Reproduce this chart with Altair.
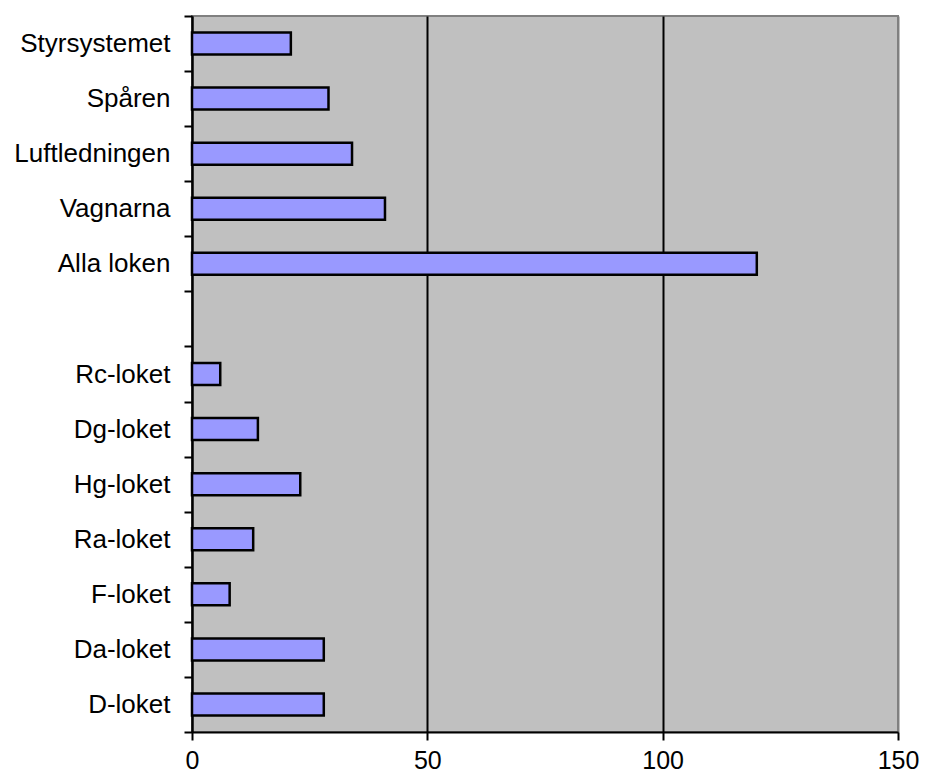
import altair as alt
import pandas as pd

categories = ["Styrsystemet", "Spåren", "Luftledningen", "Vagnarna", "Alla loken",
              " ",
              "Rc-loket", "Dg-loket", "Hg-loket", "Ra-loket", "F-loket", "Da-loket", "D-loket"]
values = [21, 29, 34, 41, 120, None, 6, 14, 23, 13, 8, 28, 28]
x_ticks = [0, 50, 100, 150]

df = pd.DataFrame({"kategori": categories, "antal": values}).dropna()

font = "Liberation Sans"

chart = alt.Chart(df).mark_bar(
    size=22, color="#9999FF", stroke="black", strokeWidth=2.5
).encode(
    x=alt.X("antal:Q",
            scale=alt.Scale(domain=[0, 150], nice=False),
            axis=alt.Axis(values=x_ticks, title=None, grid=True,
                          gridColor={"condition": {"test": "datum.value >= 150", "value": "#808080"}, "value": "black"},
                          gridWidth=2, domainColor="black", domainWidth=2,
                          tickColor="black", tickWidth=2, tickSize=8,
                          labelFont=font, labelFontSize=25, labelColor="black",
                          labelPadding=8, labelFlush=False)),
    y=alt.Y("kategori:N",
            scale=alt.Scale(domain=categories, paddingInner=0, paddingOuter=0),
            axis=alt.Axis(title=None, grid=False, tickBand="extent",
                          domainColor="black", domainWidth=2,
                          tickColor="black", tickWidth=2, tickSize=8,
                          labelFont=font, labelFontSize=26, labelColor="black",
                          labelPadding=14)),
).properties(
    width=911, height=765,
    autosize=alt.AutoSizeParams(type="fit", contains="padding"),
    background="white",
    padding={"left": 5, "top": -5, "right": 0, "bottom": 0},
).configure_view(
    fill="#C0C0C0", stroke="#808080", strokeWidth=2
)

chart.save("out.html", embed_options={"renderer": "svg", "actions": False})
